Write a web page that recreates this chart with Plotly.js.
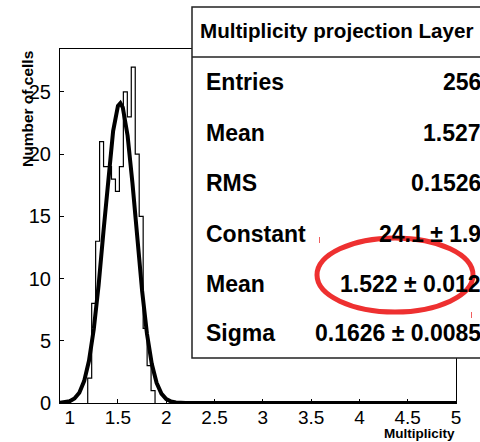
<!DOCTYPE html>
<html>
<head>
<meta charset="utf-8">
<script src="https://cdn.plot.ly/plotly-3.0.1.min.js"></script>
<style>html,body{margin:0;padding:0;background:#fff;}#chart{width:480px;height:442px;}</style>
</head>
<body>
<div id="chart"></div>
<script>
// Histogram bin edges (low edges + final upper edge) and counts
var binEdges = [1.187, 1.228, 1.269, 1.310, 1.351, 1.392, 1.433, 1.474, 1.515, 1.556, 1.597, 1.638, 1.679, 1.720, 1.761, 1.802, 1.843, 1.884];
var binCounts = [2, 8, 13, 21, 19, 19, 18, 17, 19, 25, 23, 27, 20, 15, 6, 3, 1];

// Gaussian fit curve points
var fitX = [0.90, 0.95, 1.00, 1.05, 1.10, 1.15, 1.20, 1.25, 1.30, 1.35, 1.40, 1.45, 1.50, 1.525, 1.55, 1.60, 1.65, 1.70, 1.75, 1.80, 1.85, 1.90, 1.95, 2.00, 2.05, 2.10, 2.15, 2.20, 5.00];
var fitY = [0.02, 0.05, 0.14, 0.36, 0.83, 1.76, 3.39, 5.95, 9.49, 13.78, 18.19, 21.85, 23.88, 24.1, 23.75, 21.48, 17.68, 13.24, 9.02, 5.59, 3.15, 1.62, 0.75, 0.32, 0.12, 0.04, 0.01, 0.0, 0.0];

// Axis ticks
var xTickVals = [1, 1.5, 2, 2.5, 3, 3.5, 4, 4.5, 5];
var xTickText = ["1", "1.5", "2", "2.5", "3", "3.5", "4", "4.5", "5"];
var yTickVals = [0, 5, 10, 15, 20, 25];
var yTickText = ["0", "5", "10", "15", "20", "25"];

// Stats box
var statsTitle = "Multiplicity projection Layer";
var statLabels = ["Entries", "Mean", "RMS", "Constant", "Mean", "Sigma"];
var statValues = ["256", "1.527", "0.1526", "24.1 \u00b1 1.9", "1.522 \u00b1 0.012", "0.1626 \u00b1 0.0085"];

var xTitle = "Multiplicity";
var yTitle = "Number of cells";

// --- build traces ---
var histX = [binEdges[0]].concat(binEdges);
var histY = [0].concat(binCounts).concat([0]);

var traces = [
  {x: histX, y: histY, type: 'scatter', mode: 'lines',
   line: {shape: 'hv', color: '#000', width: 1.2}, hoverinfo: 'skip', cliponaxis: true},
  {x: fitX, y: fitY, type: 'scatter', mode: 'lines',
   line: {color: '#000', width: 4}, hoverinfo: 'skip', cliponaxis: false}
];

var L = 60, R = 456, T = 49, B = 403;
function px(x) { return (x - L) / (R - L); }
function py(y) { return (B - y) / (B - T); }

var font = "Liberation Sans, Arial, sans-serif";
var annotations = [];
annotations.push({xref: 'paper', yref: 'paper', x: px(198), y: py(31), xanchor: 'left', yanchor: 'middle',
  text: '<b>' + statsTitle + '</b>', showarrow: false, font: {family: font, size: 20.6, color: '#000'}});
var rowY = [82, 133, 183, 234, 284, 333];
for (var i = 0; i < statLabels.length; i++) {
  annotations.push({xref: 'paper', yref: 'paper', x: px(204), y: py(rowY[i]), xanchor: 'left', yanchor: 'middle',
    text: '<b>' + statLabels[i] + '</b>', showarrow: false, font: {family: font, size: 23, color: '#000'}});
  annotations.push({xref: 'paper', yref: 'paper', x: px(483), y: py(rowY[i]), xanchor: 'right', yanchor: 'middle',
    text: '<b>' + statValues[i] + '</b>', showarrow: false, font: {family: font, size: 23, color: '#000'}});
}
annotations.push({xref: 'paper', yref: 'paper', x: 1, y: 0, xanchor: 'right', yanchor: 'bottom', yshift: -38.5,
  text: '<b>' + xTitle + '</b>', showarrow: false, font: {family: font, size: 13.5, color: '#000'}, borderpad: 0});
annotations.push({xref: 'paper', yref: 'paper', x: 0, y: 1, xanchor: 'center', yanchor: 'top', xshift: -33, yshift: 0,
  textangle: -90, text: '<b>' + yTitle + '</b>', showarrow: false, font: {family: font, size: 15.5, color: '#000'}});

var shapes = [
  {type: 'rect', xref: 'paper', yref: 'paper', x0: px(192), x1: px(495), y0: py(358), y1: py(7),
   fillcolor: '#fff', line: {color: '#222', width: 1.5}, layer: 'above'},
  {type: 'line', xref: 'paper', yref: 'paper', x0: px(192), x1: px(495), y0: py(57), y1: py(57),
   line: {color: '#222', width: 1.5}, layer: 'above'},
  {type: 'circle', xref: 'paper', yref: 'paper', x0: px(317), x1: px(473), y0: py(312), y1: py(238),
   line: {color: '#ee3030', width: 5}, layer: 'above'},
  {type: 'line', xref: 'paper', yref: 'paper', x0: px(319.5), x1: px(319.5), y0: py(243), y1: py(237),
   line: {color: '#f06060', width: 1}, layer: 'above'},
  {type: 'line', xref: 'paper', yref: 'paper', x0: px(471.5), x1: px(471.5), y0: py(318), y1: py(312),
   line: {color: '#f06060', width: 1}, layer: 'above'}
];

var layout = {
  width: 480, height: 442,
  margin: {l: L, r: 480 - R, t: T, b: 442 - B, pad: 0},
  paper_bgcolor: '#fff', plot_bgcolor: '#fff',
  showlegend: false,
  xaxis: {range: [0.9, 5], tickvals: xTickVals, ticktext: xTickText, ticks: 'inside', ticklen: 4,
    tickcolor: '#000', showline: true, linecolor: '#000', linewidth: 1, mirror: true,
    showgrid: false, zeroline: false, tickfont: {family: font, size: 19, color: '#000'}, ticklabelstandoff: -3},
  yaxis: {range: [0, 28.45], tickvals: yTickVals, ticktext: yTickText, ticks: 'inside', ticklen: 4,
    tickcolor: '#000', showline: true, linecolor: '#000', linewidth: 1, mirror: true,
    showgrid: false, zeroline: false, tickfont: {family: font, size: 20, color: '#000'}, ticklabelstandoff: 4},
  annotations: annotations,
  shapes: shapes
};

Plotly.newPlot('chart', traces, layout, {staticPlot: true, displayModeBar: false});
</script>
</body>
</html>
